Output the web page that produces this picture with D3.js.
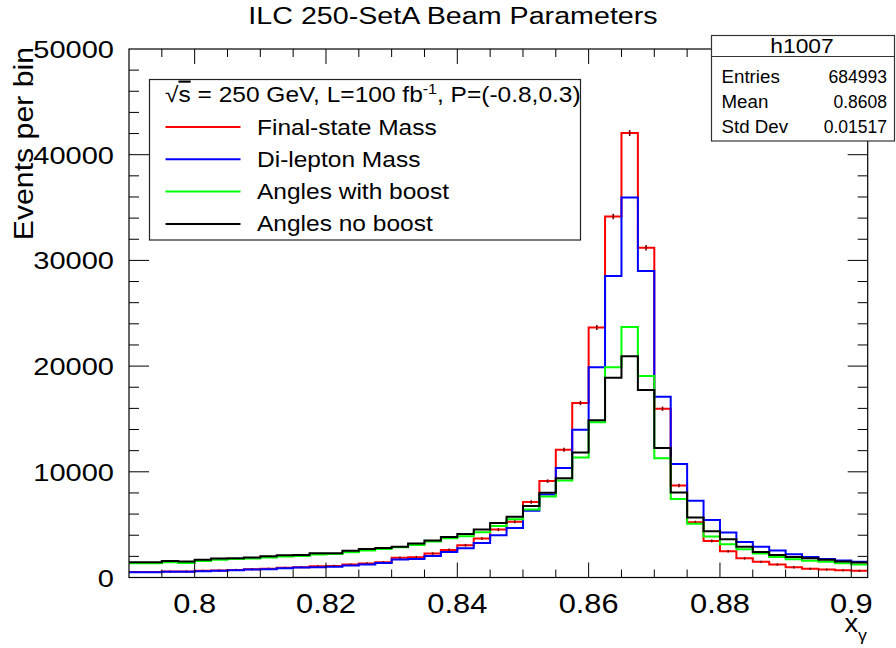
<!DOCTYPE html>
<html>
<head>
<meta charset="utf-8">
<script src="https://cdn.jsdelivr.net/npm/d3@7"></script>
<style>
  body { margin: 0; background: #fff; }
  text { font-family: "Liberation Sans", Arial, Helvetica, sans-serif; fill: #000; }
</style>
</head>
<body>
<svg id="plot" width="896" height="648"></svg>
<script>
// binning of h1007 : 45 bins of 0.0025 from 0.79
const binLo = 0.79, binW = 0.0025, nBins = 45;

const finalStateMass = [520, 520, 560, 570, 630, 660, 720, 790, 830, 920,
  980, 1060, 1090, 1230, 1320, 1450, 1860, 1920, 2260, 2610,
  3050, 3680, 4530, 5280, 7140, 9120, 12080, 16510, 23650, 34150,
  42050, 31200, 15970, 8710, 5220, 3460, 2480, 1810, 1480, 1230,
  970, 820, 750, 690, 630];
const dileptonMass = [500, 500, 540, 540, 600, 630, 690, 750, 790, 880,
  940, 980, 1020, 1130, 1230, 1380, 1700, 1760, 2040, 2420,
  2770, 3270, 3990, 4690, 6320, 7860, 10350, 13990, 19900, 28520,
  35940, 29000, 17100, 10730, 7260, 5440, 4250, 3370, 2920, 2550,
  2200, 1950, 1760, 1600, 1480];
const anglesBoost = [1350, 1350, 1450, 1380, 1570, 1670, 1740, 1790, 1890, 1980,
  2040, 2170, 2220, 2390, 2550, 2700, 2860, 3080, 3400, 3710,
  3900, 4270, 4880, 5500, 6440, 7670, 9180, 11350, 14690, 19880,
  23710, 19060, 11290, 7420, 5080, 3870, 3140, 2670, 2260, 1950,
  1730, 1580, 1480, 1350, 1230];
const anglesNoBoost = [1450, 1450, 1570, 1510, 1670, 1790, 1820, 1890, 2010, 2100,
  2140, 2290, 2300, 2530, 2690, 2790, 2920, 3210, 3490, 3840,
  4120, 4530, 5160, 5750, 6770, 8020, 9400, 11820, 14880, 18900,
  20940, 17740, 12260, 8050, 5680, 4370, 3610, 2900, 2420, 2140,
  1950, 1820, 1670, 1510, 1420];

const seriesNames = ["Final-state Mass", "Di-lepton Mass", "Angles with boost", "Angles no boost"];
const seriesColors = ["#ff0000", "#0000ff", "#00ff00", "#000000"];
const xTicks = [0.8, 0.82, 0.84, 0.86, 0.88, 0.9];
const yTicks = [0, 10000, 20000, 30000, 40000, 50000];
const statsRows = [["Entries", "684993"], ["Mean", "0.8608"], ["Std Dev", "0.01517"]];

const svg = d3.select("#plot");
const fl = 129, fr = 867.7, ft = 49, fb = 577.5;

const x = d3.scaleLinear().domain([binLo, binLo + nBins * binW]).range([fl, fr]);
const y = d3.scaleLinear().domain([0, 50000]).range([fb, ft]);

// text helper: ROOT renders its fonts a bit wider, so stretch horizontally
const txt = function (parent, px, py, s, o) {
    let tr = `translate(${px},${py})`;
    if (o.rot) tr += ` rotate(${o.rot})`;
    tr += ` scale(${o.k || 1},1)`;
    let t = parent.append("g").attr("transform", tr)
        .append("text")
        .attr("font-size", o.size)
        .attr("text-anchor", o.anchor || "start");
    if (s !== null) t.text(s);
    return t;
};

svg.append("rect").attr("width", 896).attr("height", 648).attr("fill", "#fff");

// histograms
const edges = d3.range(nBins + 1).map(i => binLo + i * binW);
const stepLine = d3.line().x(d => x(d[0])).y(d => y(d[1])).curve(d3.curveStepAfter);
const allSeries = [finalStateMass, dileptonMass, anglesBoost, anglesNoBoost];

const plotG = svg.append("g");
allSeries.forEach((vals, si) => {
    let pts = vals.map((v, i) => [edges[i], v]);
    pts.push([edges[nBins], vals[nBins - 1]]);
    plotG.append("path")
        .attr("d", stepLine(pts))
        .attr("fill", "none")
        .attr("stroke", seriesColors[si])
        .attr("stroke-width", 2);
    if (si === 0) {
        // statistical error marks on the red histogram
        plotG.selectAll(null).data(vals).enter().append("line")
            .attr("x1", (v, i) => x(edges[i] + binW / 2))
            .attr("x2", (v, i) => x(edges[i] + binW / 2))
            .attr("y1", v => y(v + Math.sqrt(v)) - 0.8)
            .attr("y2", v => y(v - Math.sqrt(v)) + 0.8)
            .attr("stroke", "#700")
            .attr("stroke-width", 1.6);
    }
});

// frame and ticks (ROOT style, inside)
const tickG = svg.append("g").attr("stroke", "#000").attr("stroke-width", 1);
const xMinor = d3.range(0, 23).map(i => 0.79 + i * 0.005).filter(v => v > 0.7901);
const yMinor = d3.range(1, 25).map(i => i * 2000);
xMinor.forEach(v => {
    let big = xTicks.some(t => Math.abs(t - v) < 1e-6);
    let len = big ? 15 : 8;
    tickG.append("line").attr("x1", x(v)).attr("x2", x(v)).attr("y1", fb).attr("y2", fb - len);
    tickG.append("line").attr("x1", x(v)).attr("x2", x(v)).attr("y1", ft).attr("y2", ft + len);
});
yMinor.forEach(v => {
    let big = yTicks.includes(v);
    let len = big ? 20 : 10;
    tickG.append("line").attr("x1", fl).attr("x2", fl + len).attr("y1", y(v)).attr("y2", y(v));
    tickG.append("line").attr("x1", fr).attr("x2", fr - len).attr("y1", y(v)).attr("y2", y(v));
});
svg.append("rect").attr("x", fl).attr("y", ft).attr("width", fr - fl).attr("height", fb - ft)
    .attr("fill", "none").attr("stroke", "#000").attr("stroke-width", 1.2);

// tick labels
xTicks.forEach(v => txt(svg, x(v), 613, String(v), { size: 28, k: 1.1, anchor: "middle" }));
yTicks.forEach(v => txt(svg, 114, y(v) + 9, String(v), { size: 24, k: 1.21, anchor: "end" }));

// titles
txt(svg, 453, 24, "ILC 250-SetA Beam Parameters", { size: 24.5, k: 1.17, anchor: "middle" });
txt(svg, 33, 47, "Events per bin", { size: 27, k: 1.12, anchor: "end", rot: -90 });
let xt = txt(svg, 867, 632, null, { size: 26, k: 1.05, anchor: "end" });
xt.append("tspan").text("x");
xt.append("tspan").attr("dy", 9).attr("font-size", 17).text("\u03b3");

// legend
const lg = svg.append("g");
lg.append("rect").attr("x", 149.5).attr("y", 79.5).attr("width", 431).attr("height", 160.5)
    .attr("fill", "#fff").attr("stroke", "#222").attr("stroke-width", 1.2);
let hd = txt(lg, 165, 102, null, { size: 21.5, k: 1.14 });
hd.append("tspan").text("\u221a");
hd.append("tspan").style("text-decoration", "overline").text("s");
hd.append("tspan").text(" = 250 GeV, L=100 fb");
hd.append("tspan").attr("dy", -8).attr("font-size", 14).text("-1");
hd.append("tspan").attr("dy", 8).text(", P=(-0.8,0.3)");
seriesNames.forEach((nm, i) => {
    let ly = 127 + i * 32.3;
    lg.append("line").attr("x1", 165.5).attr("x2", 240.5).attr("y1", ly).attr("y2", ly)
        .attr("stroke", seriesColors[i]).attr("stroke-width", 2);
    txt(lg, 257, ly + 7.5, nm, { size: 21.5, k: 1.14 });
});

// stats box
const sb = svg.append("g");
sb.append("rect").attr("x", 711.5).attr("y", 35.5).attr("width", 183).attr("height", 105.5)
    .attr("fill", "#fff").attr("stroke", "#333").attr("stroke-width", 1.2);
sb.append("line").attr("x1", 711.5).attr("x2", 894.5).attr("y1", 56.5).attr("y2", 56.5)
    .attr("stroke", "#333").attr("stroke-width", 1.2);
txt(sb, 802, 53, "h1007", { size: 20, k: 1.14, anchor: "middle" });
statsRows.forEach((r, i) => {
    let ry = 83 + i * 25;
    txt(sb, 721.5, ry, r[0], { size: 17.5, k: 1.07 });
    txt(sb, 887, ry, r[1], { size: 17.5, k: 1.0, anchor: "end" });
});
</script>
</body>
</html>
